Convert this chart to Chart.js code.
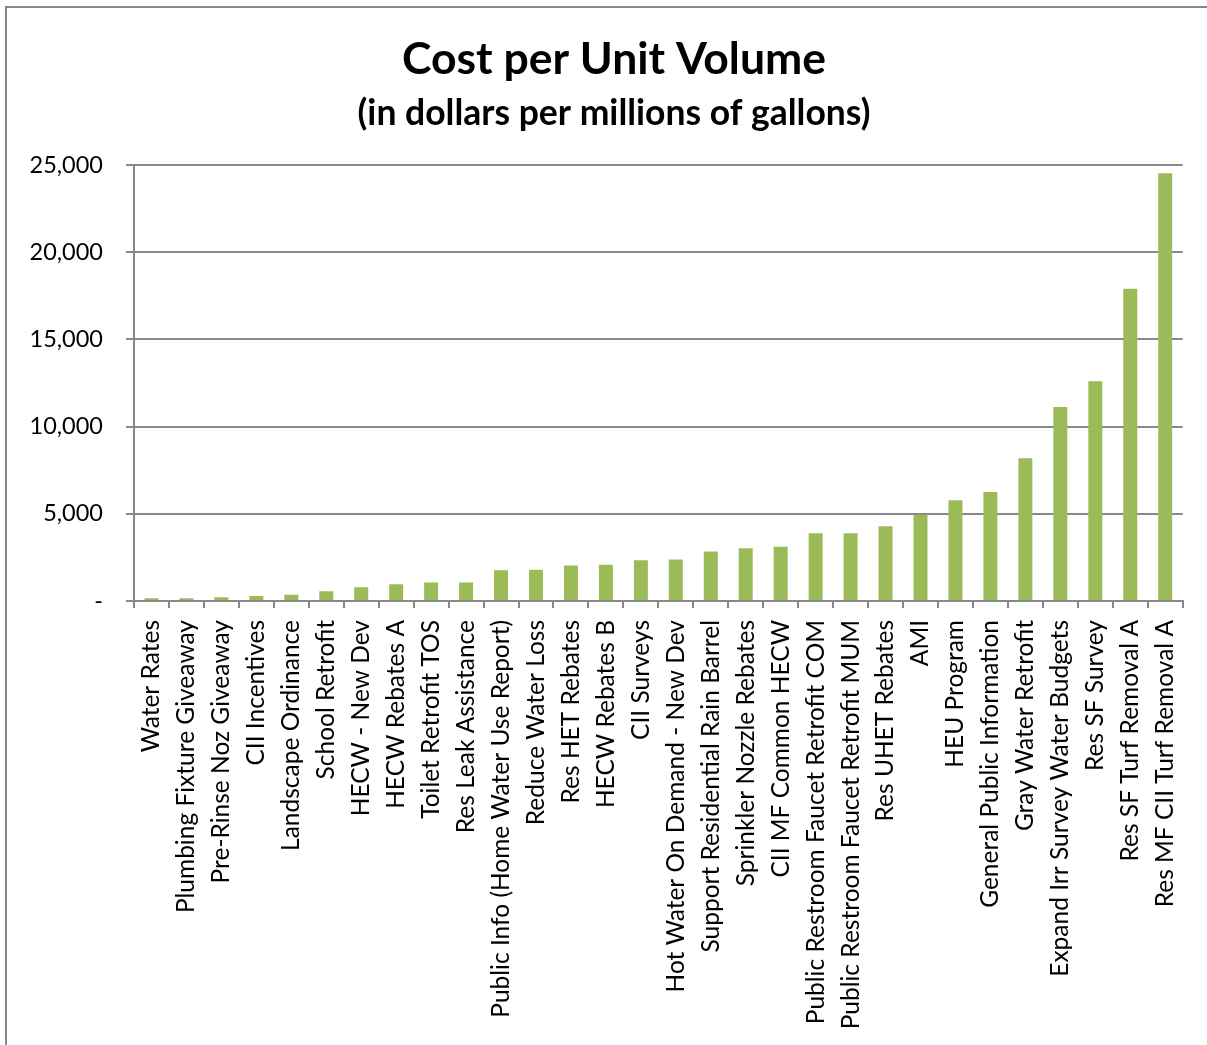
<!DOCTYPE html>
<html>
<head>
<meta charset="utf-8">
<title>Cost per Unit Volume</title>
<script src="https://cdn.jsdelivr.net/npm/chart.js@4"></script>
<style>
  html, body { margin: 0; padding: 0; background: #fff; }
  #wrap { position: relative; width: 1207px; height: 1045px; }
</style>
</head>
<body>
<div id="wrap"><canvas id="costChart" width="1207" height="1045"></canvas></div>
<script>
// conservation measures, cheapest first
var measures = [
  'Water Rates', 'Plumbing Fixture Giveaway', 'Pre-Rinse Noz Giveaway', 'CII Incentives',
  'Landscape Ordinance', 'School Retrofit', 'HECW - New Dev', 'HECW Rebates A',
  'Toilet Retrofit TOS', 'Res Leak Assistance', 'Public Info (Home Water Use Report)',
  'Reduce Water Loss', 'Res HET Rebates', 'HECW Rebates B', 'CII Surveys',
  'Hot Water On Demand - New Dev', 'Support Residential Rain Barrel', 'Sprinkler Nozzle Rebates',
  'CII MF Common HECW', 'Public Restroom Faucet Retrofit COM', 'Public Restroom Faucet Retrofit MUM',
  'Res UHET Rebates', 'AMI', 'HEU Program', 'General Public Information', 'Gray Water Retrofit',
  'Expand Irr Survey Water Budgets', 'Res SF Survey', 'Res SF Turf Removal A', 'Res MF CII Turf Removal A'
];

// dollars per million gallons
var costPerMG = [
  160, 160, 220, 280, 360, 560, 790, 965, 1060, 1060,
  1770, 1790, 2040, 2080, 2340, 2380, 2840, 3030, 3110, 3890,
  3890, 4280, 4950, 5770, 6250, 8180, 11130, 12600, 17900, 24520
];

var yTicks = [0, 5000, 10000, 15000, 20000, 25000];

var gray = '#888888';
var fontFamily = 'Lato, "Open Sans", sans-serif';

// thin frame along the top and left of the chart
var framePlugin = {
  id: 'frame',
  beforeDraw: function (chart) {
    var ctx = chart.ctx;
    ctx.save();
    ctx.strokeStyle = gray;
    ctx.lineWidth = 2;
    ctx.beginPath();
    ctx.moveTo(6, chart.height);
    ctx.lineTo(6, 7);
    ctx.lineTo(chart.width, 7);
    ctx.stroke();
    ctx.restore();
  }
};

function formatTick(value) {
  if (value === 0) return '-';
  return value.toLocaleString('en-US');
}

function renderCostChart(divId) {
  var ctx = document.getElementById(divId).getContext('2d');
  new Chart(ctx, {
    type: 'bar',
    data: {
      labels: measures,
      datasets: [{
        data: costPerMG,
        backgroundColor: '#9BBB59',
        barPercentage: 0.4,
        categoryPercentage: 1.0
      }]
    },
    options: {
      responsive: false,
      animation: false,
      layout: { padding: { left: 21, right: 0, top: 0, bottom: 0 } },
      plugins: {
        legend: { display: false },
        tooltip: { enabled: false },
        title: {
          display: true,
          text: 'Cost per Unit Volume',
          color: '#000',
          font: { family: fontFamily, size: 44.5, weight: 'bold', lineHeight: 1.0 },
          padding: { top: 37, bottom: 14 }
        },
        subtitle: {
          display: true,
          text: '(in dollars per millions of gallons)',
          color: '#000',
          font: { family: fontFamily, size: 35.5, weight: 'bold', lineHeight: 1.0 },
          padding: { top: 0, bottom: 34 }
        }
      },
      scales: {
        x: {
          offset: true,
          grid: { offset: true, drawOnChartArea: false, drawTicks: true, tickLength: 7, color: gray, lineWidth: 2 },
          border: { display: true, color: gray, width: 2 },
          ticks: {
            autoSkip: false,
            minRotation: 90,
            maxRotation: 90,
            padding: 12,
            color: '#000',
            font: { family: fontFamily, size: 24.5 }
          },
          afterFit: function (scale) { scale.height = 444; }
        },
        y: {
          min: 0,
          max: 25000,
          afterBuildTicks: function (scale) {
            scale.ticks = yTicks.map(function (v) { return { value: v }; });
          },
          grid: { color: gray, lineWidth: 2, drawTicks: true, tickLength: 8 },
          border: { display: true, color: gray, width: 2 },
          ticks: {
            padding: 23,
            color: '#000',
            font: { family: fontFamily, size: 23.5 },
            callback: formatTick
          },
          afterFit: function (scale) { scale.width = 113; }
        },
        // empty strip on the right so the plot stops short of the edge
        spacer: {
          type: 'linear',
          position: 'right',
          grid: { display: false, drawTicks: false },
          border: { display: false },
          ticks: { display: false },
          afterFit: function (scale) { scale.width = 24; }
        }
      }
    },
    plugins: [framePlugin]
  });
}

renderCostChart('costChart');
</script>
</body>
</html>
